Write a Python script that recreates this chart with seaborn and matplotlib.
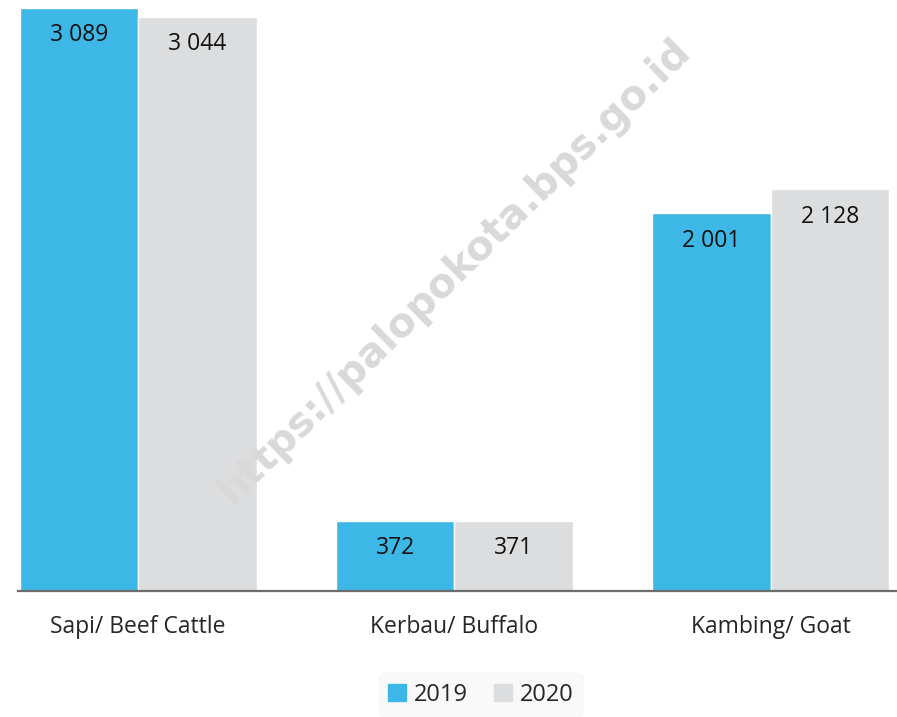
import pandas as pd
import seaborn as sns
import matplotlib.pyplot as plt

# livestock population, Palopo
jenis = ["Sapi/ Beef Cattle", "Kerbau/ Buffalo", "Kambing/ Goat"]
tahun = ["2019", "2020"]
nilai_2019 = [3089, 372, 2001]
nilai_2020 = [3044, 371, 2128]

palette = {"2019": "#3DB8E6", "2020": "#DCDDDF"}


def main():
    df = pd.DataFrame({
        "jenis": jenis * 2,
        "tahun": [tahun[0]] * 3 + [tahun[1]] * 3,
        "jumlah": nilai_2019 + nilai_2020,
    })

    sns.set_style("white")
    plt.rcParams["font.family"] = ["Open Sans", "DejaVu Sans"]

    fig = plt.figure(figsize=(8.97, 7.17), dpi=100)
    ax = fig.add_axes([0.0201, 0.1757, 0.9799, 0.8243])

    sns.barplot(data=df, x="jenis", y="jumlah", hue="tahun", palette=palette,
                saturation=1, width=0.75, ax=ax, legend=False)

    # value labels inside the bars, near the top
    for cont in ax.containers:
        for bar in cont:
            v = bar.get_height()
            ax.annotate(f"{int(v):,}".replace(",", " "),
                        (bar.get_x() + bar.get_width() / 2, v),
                        xytext=(0, -19.5), textcoords="offset points",
                        ha="center", va="center", fontsize=16.5, color="#111111")

    ax.set_xlim(-0.38, 2.40)
    ax.set_ylim(0, 3132)
    ax.set_xlabel("")
    ax.set_ylabel("")
    ax.set_yticks([])
    ax.tick_params(axis="x", length=0, labelsize=16.5, pad=17)
    sns.despine(ax=ax, left=True, top=True, right=True)
    ax.spines["bottom"].set_color("#6d6d6d")
    ax.spines["bottom"].set_linewidth(1.6)

    # watermark
    fig.text(0.507, 0.623, "https://palopokota.bps.go.id", rotation=44.5,
             ha="center", va="center", fontsize=29, fontweight="bold",
             color="#d9d9d9", family="DejaVu Sans", zorder=10)

    handles = [plt.Rectangle((0, 0), 1, 1, color=palette[t]) for t in tahun]
    leg = fig.legend(handles, tahun, loc="center", bbox_to_anchor=(0.536, 0.031),
                     ncol=2, frameon=True, fontsize=17, handlelength=0.75,
                     handleheight=0.75, handletextpad=0.35, columnspacing=1.1,
                     borderpad=0.4)
    leg.get_frame().set_facecolor("#f8f8f8")
    leg.get_frame().set_edgecolor("#f8f8f8")

    fig.savefig("out.png", dpi=100)


main()
